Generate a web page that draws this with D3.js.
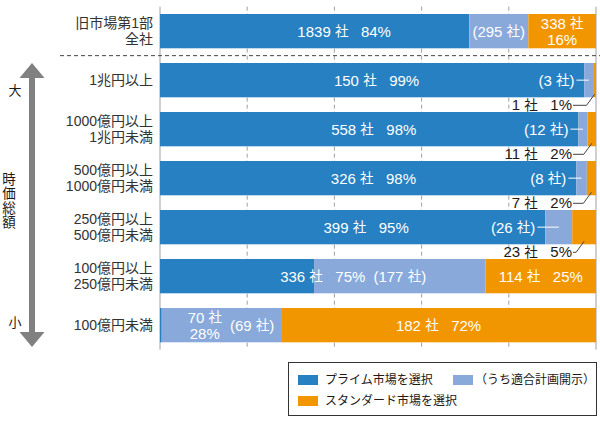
<!DOCTYPE html>
<html><head><meta charset="utf-8">
<script src="https://cdn.jsdelivr.net/npm/d3@7"></script>
<style>
body{margin:0;background:#fff;}
svg text{font-family:"Liberation Sans","Noto Sans CJK JP",sans-serif;white-space:pre;}
</style></head>
<body><svg id="c" width="600" height="425"></svg>
<script>
const categories = [["旧市場第1部","全社"],["1兆円以上"],["1000億円以上","1兆円未満"],["500億円以上","1000億円未満"],["250億円以上","500億円未満"],["100億円以上","250億円未満"],["100億円未満"]];
const primeCounts = [1839,150,558,326,399,336,70];
const subsetCounts = [295,3,12,8,26,177,69];
const standardCounts = [338,1,11,7,23,114,182];
const primePct = [84,99,98,98,95,75,28];
const standardPct = [16,1,2,2,5,25,72];
const legendLabels = ["プライム市場を選択","（うち適合計画開示）","スタンダード市場を選択"];
const xTicks = [0,0.2,0.4,0.6,0.8,1];
const axisTitle = "時価総額";

(function(){
const C_BLUE="#2680c2", C_LIGHT="#88a9da", C_ORANGE="#f29600", C_TEXT="#231815";
const svg = d3.select("#c");
const x = d3.scaleLinear().domain([0,1]).range([160,596]);
const y = d3.scaleBand().domain(d3.range(categories.length)).range([6.65,349.65]).paddingInner(0.3).paddingOuter(0.15);
const bw = y.bandwidth();

xTicks.forEach((t,i)=>{
  const solid = (i===0||i===xTicks.length-1);
  svg.append("line").attr("x1",x(t)).attr("x2",x(t)).attr("y1",y.range()[0]).attr("y2",y.range()[1])
    .attr("stroke","#a0a0a0").attr("stroke-width",1).attr("stroke-dasharray",solid?null:"4,3");
});
const sepY = y(0)+bw+(y.step()-bw)/2;
svg.append("line").attr("x1",60).attr("x2",600).attr("y1",sepY).attr("y2",sepY)
  .attr("stroke","#444").attr("stroke-dasharray","4,3");

// write a label string into a text/tspan parent, shrinking the 社 glyph
function fill(parent, str, px, py){
  const parts = str.split("社");
  parts.forEach((p,k)=>{
    const t = parent.append("tspan").text(p);
    if (k===0 && px!==undefined){ t.attr("x",px).attr("y",py).attr("dominant-baseline","central"); }
    if (k<parts.length-1) parent.append("tspan").attr("font-size",13.5).text("社");
  });
}

const data = categories.map((c,i)=>{
  const total = primeCounts[i]+standardCounts[i];
  return {i, c, blueEnd:(primeCounts[i]-subsetCounts[i])/total, primeEnd:primeCounts[i]/total};
});

const g = svg.append("g");
data.forEach(d=>{
  const yy=y(d.i);
  g.append("rect").attr("x",x(0)).attr("y",yy).attr("width",x(d.blueEnd)-x(0)).attr("height",bw).attr("fill",C_BLUE);
  g.append("rect").attr("x",x(d.blueEnd)).attr("y",yy).attr("width",x(d.primeEnd)-x(d.blueEnd)).attr("height",bw).attr("fill",C_LIGHT);
  g.append("rect").attr("x",x(d.primeEnd)).attr("y",yy).attr("width",x(1)-x(d.primeEnd)).attr("height",bw).attr("fill",C_ORANGE);

  const cy = yy+bw/2;
  const lab = svg.append("text").attr("x",x(0)-7).attr("text-anchor","end").attr("font-size",14).attr("fill","#333");
  d.c.forEach((s,k)=>{
    lab.append("tspan").attr("x",x(0)-7).attr("y",cy+(k-(d.c.length-1)/2)*16.5).attr("dominant-baseline","central").text(s);
  });

  const i=d.i;
  const primeW = x(d.primeEnd)-x(0);
  const lightW = x(d.primeEnd)-x(d.blueEnd);
  const orW = x(1)-x(d.primeEnd);
  const white = (sel)=>sel.attr("fill","#fff").attr("font-size",15).attr("text-anchor","middle").attr("dominant-baseline","central");

  if (primeW>200){
    fill(white(svg.append("text")).attr("x",x(d.primeEnd/2)).attr("y",cy), `${primeCounts[i]} 社   ${primePct[i]}%`);
    if (lightW>=40){
      fill(white(svg.append("text")).attr("x",(x(d.blueEnd)+x(d.primeEnd))/2).attr("y",cy), `(${subsetCounts[i]} 社)`);
    } else {
      const xe = x(d.blueEnd)-10;
      fill(svg.append("text").attr("x",xe).attr("y",cy).attr("fill","#fff").attr("font-size",15).attr("text-anchor","end").attr("dominant-baseline","central"), `(${subsetCounts[i]} 社)`);
      svg.append("line").attr("x1",xe+2).attr("x2",(x(d.blueEnd)+x(d.primeEnd))/2).attr("y1",cy).attr("y2",cy).attr("stroke","#fff").attr("stroke-width",1);
    }
  } else {
    const px = x(d.primeEnd*0.37);
    const t1 = white(svg.append("text")).attr("x",px).attr("y",cy-8);
    fill(t1, `${primeCounts[i]} 社`);
    white(svg.append("text")).attr("x",px).attr("y",cy+8).text(`${primePct[i]}%`);
    fill(white(svg.append("text")).attr("x",x(d.primeEnd)-29).attr("y",cy), `(${subsetCounts[i]} 社)`);
  }

  const oc = (x(d.primeEnd)+x(1))/2;
  if (orW>=100){
    fill(white(svg.append("text")).attr("x",oc).attr("y",cy), `${standardCounts[i]} 社   ${standardPct[i]}%`);
  } else if (orW>=40){
    fill(white(svg.append("text")).attr("x",oc).attr("y",cy-8), `${standardCounts[i]} 社`);
    white(svg.append("text")).attr("x",oc).attr("y",cy+8).text(`${standardPct[i]}%`);
  } else {
    const xe = x(1)-24, ty = yy+bw+13;
    fill(svg.append("text").attr("x",xe).attr("y",ty).attr("fill",C_TEXT).attr("font-size",15).attr("text-anchor","end"), `${standardCounts[i]} 社   ${standardPct[i]}%`);
    svg.append("polyline").attr("points",`${xe+1},${ty-5} ${oc-8},${ty-5} ${oc},${yy+bw-3}`)
      .attr("fill","none").attr("stroke","#444").attr("stroke-width",1);
  }
});

const ax = 32, aTop=63, aBot=347;
svg.append("rect").attr("x",ax-3).attr("y",aTop+12).attr("width",6).attr("height",aBot-aTop-24).attr("fill","#808080");
svg.append("path").attr("d",`M${ax},${aTop} L${ax+12.5},${aTop+15} L${ax-12.5},${aTop+15} Z`).attr("fill","#808080");
svg.append("path").attr("d",`M${ax},${aBot} L${ax+12.5},${aBot-15} L${ax-12.5},${aBot-15} Z`).attr("fill","#808080");
svg.append("text").attr("x",15).attr("y",90).attr("font-size",13).attr("fill",C_TEXT).attr("text-anchor","middle").attr("dominant-baseline","central").text("大");
svg.append("text").attr("x",15).attr("y",322).attr("font-size",13).attr("fill",C_TEXT).attr("text-anchor","middle").attr("dominant-baseline","central").text("小");
Array.from(axisTitle).forEach((ch,k)=>{
  svg.append("text").attr("x",9).attr("y",179+k*14.5).attr("font-size",13.5).attr("fill",C_TEXT).attr("text-anchor","middle").attr("dominant-baseline","central").text(ch);
});

svg.append("rect").attr("x",288.5).attr("y",362.5).attr("width",308).attr("height",53).attr("fill","#fff").attr("stroke","#333");
const legPos = [[298,380],[453,380],[298,401]];
const legCol = [C_BLUE,C_LIGHT,C_ORANGE];
legendLabels.forEach((s,k)=>{
  svg.append("rect").attr("x",legPos[k][0]).attr("y",legPos[k][1]-5).attr("width",20).attr("height",10).attr("fill",legCol[k]);
  svg.append("text").attr("x",legPos[k][0]+(k===1?22:27)).attr("y",legPos[k][1]).attr("font-size",12).attr("fill",C_TEXT).attr("dominant-baseline","central").text(s);
});
})();
</script></body></html>
